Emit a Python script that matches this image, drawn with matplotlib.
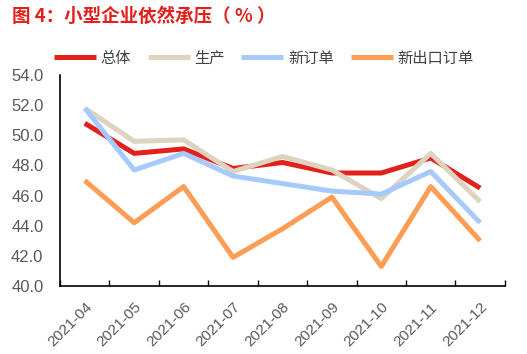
import matplotlib
matplotlib.use("Agg")
import matplotlib.pyplot as plt
import numpy as np

plt.rcParams['font.family'] = ['Liberation Sans', 'Noto Sans CJK SC', 'DejaVu Sans']

months = ["2021-04", "2021-05", "2021-06", "2021-07", "2021-08",
          "2021-09", "2021-10", "2021-11", "2021-12"]
overall = [50.8, 48.8, 49.1, 47.8, 48.2, 47.5, 47.5, 48.5, 46.5]
production = [51.8, 49.6, 49.7, 47.6, 48.6, 47.7, 45.8, 48.8, 45.6]
new_orders = [51.8, 47.7, 48.8, 47.3, 46.8, 46.3, 46.1, 47.6, 44.2]
export_orders = [47.0, 44.2, 46.6, 41.9, 43.8, 45.9, 41.3, 46.6, 43.0]

series = [
    ("总体", overall, "#E3201B"),
    ("生产", production, "#DDD3BE"),
    ("新订单", new_orders, "#A6CAFE"),
    ("新出口订单", export_orders, "#FF9D55"),
]

fig = plt.figure(figsize=(5.27, 3.54), dpi=100)
ax = fig.add_axes([0.114, 0.192, 0.844, 0.596])

x = np.arange(len(months))
for label, vals, color in series:
    ax.plot(x, vals, color=color, lw=3.6, label=label, solid_capstyle="butt")

ax.set_xlim(-0.5, len(months) - 0.5)
ax.set_ylim(40, 54)
yt = np.arange(40, 54.1, 2)
ax.set_yticks(yt)
ax.set_yticklabels([f"{v:.1f}" for v in yt])
ax.tick_params(axis="y", length=0, labelsize=12, labelcolor="#595959", pad=12)

ax.set_xticks(x)
ax.set_xticklabels(months, rotation=45, ha="right", rotation_mode="anchor")
ax.tick_params(axis="x", which="major", length=0, labelsize=11,
               labelcolor="#595959", pad=10)
ax.set_xticks(np.arange(-0.5, len(months)), minor=True)
ax.tick_params(axis="x", which="minor", direction="in", length=4, width=1, color="black")

for s in ["top", "right"]:
    ax.spines[s].set_visible(False)
ax.spines["left"].set_linewidth(1.2)
ax.spines["bottom"].set_linewidth(1.2)

fig.text(0.023, 0.955, "图 4：小型企业依然承压（ % ）", color="#E3201B",
         fontsize=13.3, fontweight="bold", family=["Noto Sans CJK SC", "DejaVu Sans"],
         va="center", ha="left")

fig.legend(loc="center", bbox_to_anchor=(0.5, 0.836), ncol=4, frameon=False,
           handlelength=2.75, handletextpad=0.3, columnspacing=1.1,
           prop={"family": ["Noto Sans CJK SC", "DejaVu Sans"], "size": 11},
           labelcolor="#404040")

fig.savefig("out.png", dpi=100)
